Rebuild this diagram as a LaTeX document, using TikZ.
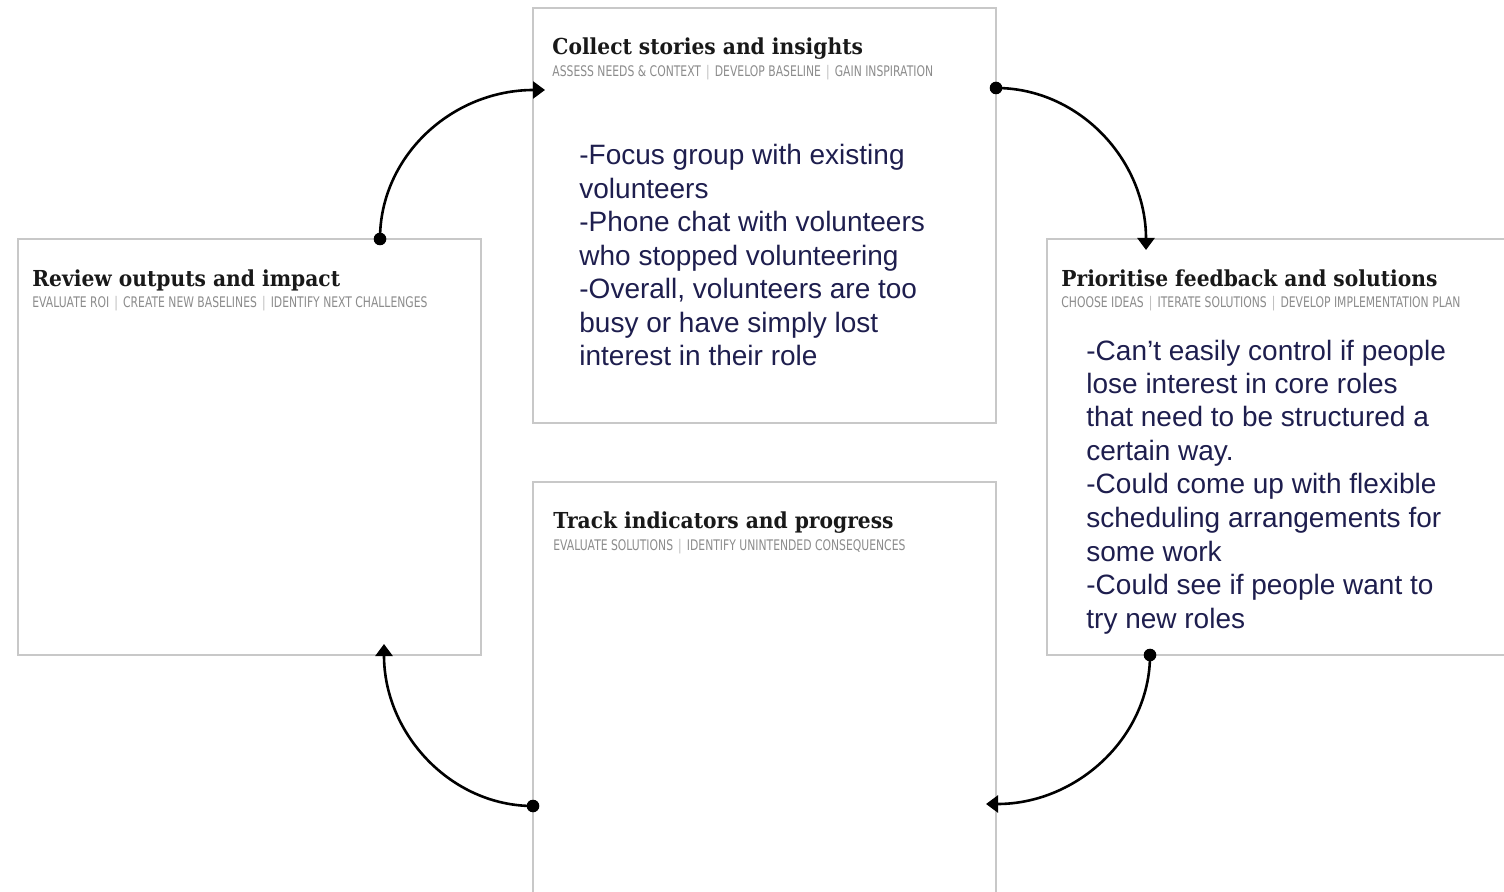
\documentclass[tikz,border=0pt]{standalone}
\usepackage{fontspec}
\setmainfont{Liberation Sans}
\newfontfamily\titlefont[FakeStretch=0.92]{DejaVu Serif}
\newfontfamily\subfont[FakeStretch=0.74]{DejaVu Sans}
\usetikzlibrary{arrows.meta}
\definecolor{boxgray}{RGB}{200,200,200}
\definecolor{subgray}{RGB}{140,140,140}
\definecolor{sepgray}{RGB}{185,185,185}
\definecolor{bodynavy}{RGB}{30,30,78}
\definecolor{titleblack}{RGB}{25,25,25}
\newcommand{\sepbar}{\hspace{0.35em}\textcolor{sepgray}{|}\hspace{0.35em}}
\tikzset{
 panel/.style={draw=boxgray, line width=0.6pt, inner sep=0pt, outer sep=0pt, fill=white},
 ttl/.style={anchor=base west, inner sep=0pt, font=\titlefont\bfseries\fontsize{11}{13}\selectfont, text=titleblack},
 subttl/.style={anchor=base west, inner sep=0pt, font=\subfont\fontsize{7.3}{9}\selectfont, text=subgray},
 body/.style={anchor=base west, inner sep=0pt, align=left, font=\fontsize{14}{16.75}\selectfont, text=bodynavy},
 dotnode/.style={circle, fill=black, inner sep=0pt, minimum size=6.3pt},
 tipnode/.style={inner sep=0pt, minimum size=0pt},
 conn/.style={line width=1.3pt, -{Triangle[length=6pt,width=8.5pt]}},
}
\begin{document}
\begin{tikzpicture}[x=0.5pt,y=-0.5pt]
\clip (0,0) rectangle (1504,892);
\fill[white] (0,0) rectangle (1504,892);
% panels
\node[panel, minimum width=231.5pt, minimum height=207.5pt] (collect) at (764.5,215.5) {};
\node[panel, minimum width=231.5pt, minimum height=208pt] (review) at (249.5,447) {};
\node[panel, minimum width=236.5pt, minimum height=208pt] (prior) at (1283.5,447) {};
\node[panel, minimum width=231.5pt, minimum height=214pt] (track) at (764.5,696) {};
% titles
\node[ttl] (collectT) at (552,55) {Collect stories and insights};
\node[subttl] (collectS) at (552,77) {ASSESS NEEDS \& CONTEXT\sepbar DEVELOP BASELINE\sepbar GAIN INSPIRATION};
\node[ttl] (reviewT) at (32,287) {Review outputs and impact};
\node[subttl] (reviewS) at (32,308) {EVALUATE ROI\sepbar CREATE NEW BASELINES\sepbar IDENTIFY NEXT CHALLENGES};
\node[ttl] (priorT) at (1061,287) {Prioritise feedback and solutions};
\node[subttl] (priorS) at (1061,308) {CHOOSE IDEAS\sepbar ITERATE SOLUTIONS\sepbar DEVELOP IMPLEMENTATION PLAN};
\node[ttl] (trackT) at (553,529) {Track indicators and progress};
\node[subttl] (trackS) at (553,551) {EVALUATE SOLUTIONS\sepbar IDENTIFY UNINTENDED CONSEQUENCES};
% body texts (anchored at the baseline of their last line)
\node[body] (collectB) at (579,366) {-Focus group with existing\\volunteers\\-Phone chat with volunteers\\who stopped volunteering\\-Overall, volunteers are too\\busy or have simply lost\\interest in their role};
\node[body] (priorB) at (1086,628) {-Can’t easily control if people\\lose interest in core roles\\that need to be structured a\\certain way.\\-Could come up with flexible\\scheduling arrangements for\\some work\\-Could see if people want to\\try new roles};
% connector ends
\node[tipnode] (t1) at (545,90) {};
\node[tipnode] (t2) at (1146,250) {};
\node[tipnode] (t3) at (986,804) {};
\node[tipnode] (t4) at (384,644) {};
% dots
\node[dotnode] (d1) at (380,239) {};
\node[dotnode] (d2) at (996,88) {};
\node[dotnode] (d3) at (1150,655) {};
\node[dotnode] (d4) at (533,806) {};
% connectors
\draw[conn] (d1.center) .. controls (380,156) and (452,90) .. (t1.center);
\draw[conn] (d2.center) .. controls (1079,88) and (1146,160) .. (t2.center);
\draw[conn] (d3.center) .. controls (1150,737) and (1077,804) .. (t3.center);
\draw[conn] (d4.center) .. controls (451,806) and (384,734) .. (t4.center);
\end{tikzpicture}
\end{document}
